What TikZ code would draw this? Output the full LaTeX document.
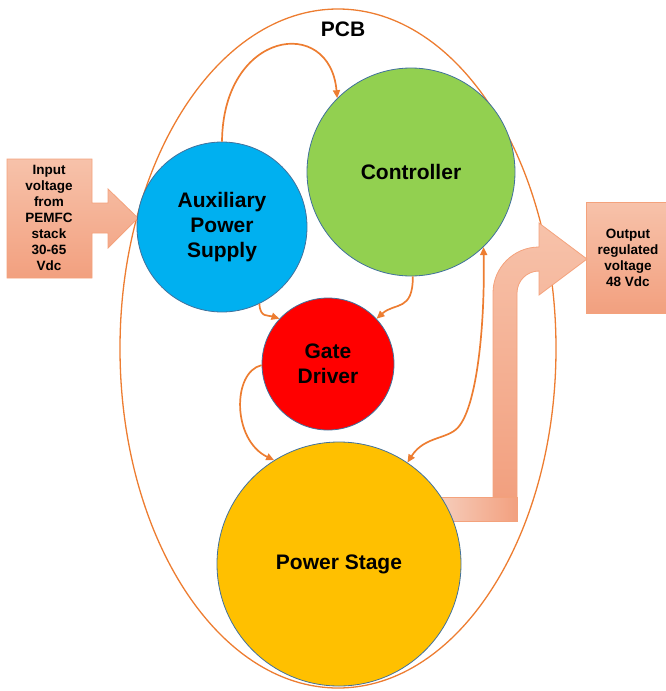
\documentclass[tikz,border=0pt]{standalone}
\usepackage{fontspec}
\setmainfont{Liberation Sans}
\usetikzlibrary{arrows.meta,shapes.geometric}
\definecolor{conn}{HTML}{ED7D31}
\definecolor{cedge}{HTML}{41719C}
\definecolor{cblue}{HTML}{00B0F0}
\definecolor{cgreen}{HTML}{92D050}
\definecolor{cred}{HTML}{FF0000}
\definecolor{cyellow}{HTML}{FFC000}
\definecolor{salmonA}{HTML}{F7C2AA}
\definecolor{salmonB}{HTML}{F2A07F}
\definecolor{salmonL}{HTML}{F6CDBB}
\definecolor{salmonEdge}{HTML}{F4A27C}
\begin{document}
\begin{tikzpicture}[x=1pt,y=-1pt,
 blob/.style={circle, draw=cedge, line width=0.8pt, inner sep=0pt, font=\bfseries\fontsize{21}{25}\selectfont, align=center},
 link/.style={draw=conn, line width=1.7pt, -{Triangle[length=8pt,width=7pt]}},
 boxtext/.style={font=\bfseries\fontsize{13.5}{16}\selectfont, align=center, inner sep=0pt},
 pad/.style={top color=salmonA, bottom color=salmonB, draw=salmonEdge, line width=0.8pt}]
\useasboundingbox (0,0) rectangle (665,691);
% PCB outline
\node[ellipse, draw=conn, line width=1.3pt, minimum width=436pt, minimum height=679pt, inner sep=0pt] (pcb) at (338,348.5) {};
\node[font=\bfseries\fontsize{21}{24}\selectfont] (pcblabel) at (343,29) {PCB};
% input callout
\path[pad] (7,159) -- (92,159) -- (92,203) -- (108,203) -- (108,189) -- (138,218) -- (108,248) -- (108,233) -- (92,233) -- (92,278) -- (7,278) -- cycle;
\node[boxtext] (in) at (49,218) {Input\\voltage\\from\\PEMFC\\stack\\30-65\\Vdc};
% output box
\path[pad] (586,202) rectangle (672,313);
\node[boxtext] (out) at (628,258) {Output\\regulated\\voltage\\48 Vdc};
% bent output arrow
\path[left color=salmonL, right color=salmonB, draw=salmonEdge, line width=0.8pt] (440,497) rectangle (517,521);
\path[pad] (493,497) -- (493,293) arc[start angle=180, end angle=90, radius=46pt] -- (539,223) -- (587,259) -- (539,295) -- (539,271) arc[start angle=90, end angle=180, radius=22pt] -- (517,497) -- cycle;
% blocks
\node[blob, fill=cblue, minimum size=170pt] (aux) at (222,227) {Auxiliary\\Power\\Supply};
\node[blob, fill=cgreen, minimum size=208pt] (ctrl) at (411,172) {Controller};
\node[blob, fill=cred, minimum size=132pt] (gate) at (328,364) {Gate\\Driver};
\node[blob, fill=cyellow, minimum size=244pt] (power) at (339,564) {Power Stage};
% connectors
\draw[link] (aux.north) .. controls (223,30) and (330,15) .. (ctrl.135);
\draw[link] (aux.-64) .. controls (260,318) and (268,315) .. (gate.137);
\draw[link] (ctrl.-89) .. controls (413,312) and (395,302) .. (gate.43);
\draw[link] (gate.181) .. controls (232,372) and (232,440) .. (power.122);
\draw[link, {Triangle[length=8pt,width=7pt]}-{Triangle[length=8pt,width=7pt]}] (power.56) .. controls (425,435) and (450,440) .. (460,425) .. controls (478,400) and (485,320) .. (ctrl.-46);
\end{tikzpicture}
\end{document}
